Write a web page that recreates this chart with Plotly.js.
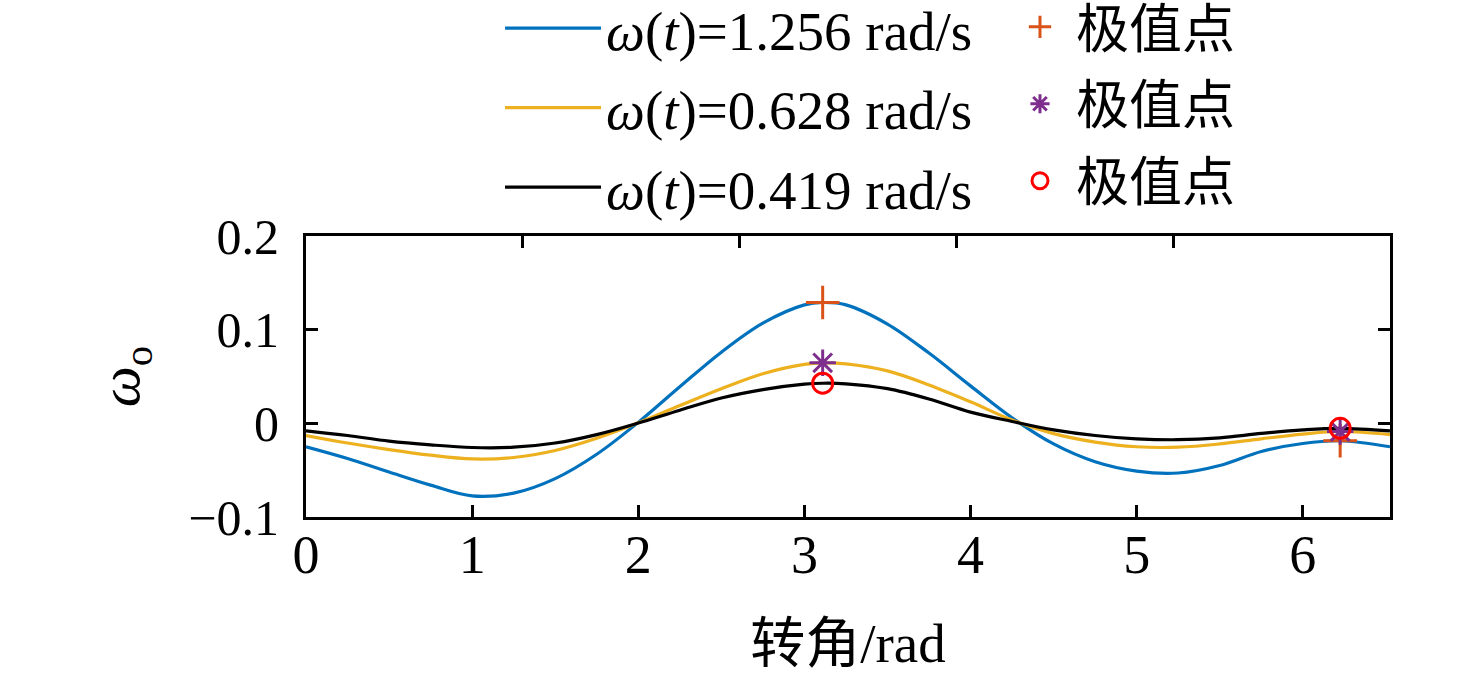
<!DOCTYPE html>
<html>
<head>
<meta charset="utf-8">
<script src="https://cdn.plot.ly/plotly-3.0.1.min.js"></script>
<style>html,body{margin:0;padding:0;background:#fff;}#chart{width:1476px;height:682px;}</style>
</head>
<body>
<div id="chart"></div>
<script>
// rotation angle (rad)
const angle = [0, 0.25, 0.5, 0.75, 1.0, 1.25, 1.5, 1.75, 2.0, 2.25, 2.5, 2.75, 3.0, 3.11, 3.25, 3.5, 3.75, 4.0, 4.25, 4.5, 4.75, 5.0, 5.25, 5.5, 5.75, 6.0, 6.225, 6.525];
const omega1256 = [-0.025, -0.0375, -0.052, -0.066, -0.0775, -0.0745, -0.059, -0.033, 0.001, 0.039, 0.076, 0.107, 0.1265, 0.129, 0.1265, 0.106, 0.075, 0.040, 0.006, -0.022, -0.041, -0.051, -0.053, -0.045, -0.030, -0.0215, -0.0186, -0.025];
const omega0628 = [-0.013, -0.021, -0.028, -0.034, -0.038, -0.0365, -0.029, -0.016, 0.0005, 0.019, 0.037, 0.053, 0.063, 0.0646, 0.0635, 0.056, 0.041, 0.023, 0.0035, -0.011, -0.020, -0.025, -0.0255, -0.022, -0.0165, -0.0115, -0.0087, -0.012];
const omega0419 = [-0.008, -0.013, -0.019, -0.023, -0.0258, -0.0255, -0.021, -0.012, 0.0003, 0.014, 0.027, 0.036, 0.0418, 0.0428, 0.0422, 0.037, 0.026, 0.012, 0.002, -0.007, -0.013, -0.0165, -0.0175, -0.0155, -0.0108, -0.007, -0.0053, -0.008];
// extreme points
const extX = [3.11, 6.225];
const ext1256 = [0.129, -0.0186];
const ext0628 = [0.0646, -0.0087];
const ext0419 = [0.0428, -0.0053];
const seriesNames = ['<i>ω</i>(<i>t</i>)=1.256 rad/s', '<i>ω</i>(<i>t</i>)=0.628 rad/s', '<i>ω</i>(<i>t</i>)=0.419 rad/s'];
const markerName = '极值点';
const xTicks = [0, 1, 2, 3, 4, 5, 6];
const yTicks = [-0.1, 0, 0.1, 0.2];
const yTickText = ['−0.1', '0', '0.1', '0.2'];

const FONT = 'Liberation Serif, "Times New Roman", "Noto Sans CJK SC", serif';
const lineW = 3.2;

const traces = [
  {x: angle, y: omega1256, mode: 'lines', name: seriesNames[0], line: {color: '#0072BD', width: lineW, shape: 'spline', smoothing: 1}, legend: 'legend', legendgroup: 'a'},
  {x: angle, y: omega0628, mode: 'lines', name: seriesNames[1], line: {color: '#EDB120', width: lineW, shape: 'spline', smoothing: 1}, legend: 'legend', legendgroup: 'b'},
  {x: angle, y: omega0419, mode: 'lines', name: seriesNames[2], line: {color: '#000000', width: lineW, shape: 'spline', smoothing: 1}, legend: 'legend', legendgroup: 'c'},
  {x: extX, y: ext1256, mode: 'markers', name: markerName, marker: {symbol: 'cross-thin-open', size: 24, color: '#D95319', line: {color: '#D95319', width: 3}}, legend: 'legend2', legendgroup: 'd'},
  {x: extX, y: ext0628, mode: 'markers', name: markerName, marker: {symbol: 'asterisk-open', size: 22, color: '#7E2F8E', line: {color: '#7E2F8E', width: 3}}, legend: 'legend2', legendgroup: 'e'},
  {x: extX, y: ext0419, mode: 'markers', name: markerName, marker: {symbol: 'circle-open', size: 20, color: '#FF0000', line: {color: '#FF0000', width: 3}}, legend: 'legend2', legendgroup: 'f'},
  {x: [], y: [], xaxis: 'x2', yaxis: 'y', mode: 'lines', showlegend: false, hoverinfo: 'skip'}
];

const layout = {
  width: 1476, height: 682,
  margin: {l: 306, r: 86, t: 236, b: 165, pad: 0, autoexpand: false},
  paper_bgcolor: '#fff', plot_bgcolor: 'rgba(0,0,0,0)',
  font: {family: FONT, color: '#000', size: 50},
  showlegend: true,
  xaxis: {
    range: [0, 6.525], tickmode: 'array', tickvals: xTicks, mirror: true,
    showgrid: false, zeroline: false, showline: true, linecolor: '#000', linewidth: 3,
    ticks: 'inside', ticklen: 12, tickwidth: 3, tickcolor: '#000',
    tickfont: {family: FONT, size: 54, color: '#000'},
    ticklabelstandoff: -12,
    title: {text: '转角/rad', font: {family: FONT, size: 55, color: '#000'}, standoff: 40}
  },
  xaxis2: {
    overlaying: 'x', side: 'top', range: [0, 5], tickmode: 'linear', dtick: 1, tick0: 0,
    showgrid: false, zeroline: false, showline: true, linecolor: '#000', linewidth: 3,
    ticks: 'inside', ticklen: 12, tickwidth: 3, tickcolor: '#000',
    showticklabels: false
  },
  yaxis: {
    range: [-0.1, 0.2], tickmode: 'array', tickvals: yTicks, ticktext: yTickText, mirror: 'ticks',
    showgrid: false, zeroline: false, showline: true, linecolor: '#000', linewidth: 3,
    ticks: 'inside', ticklen: 12, tickwidth: 3, tickcolor: '#000',
    tickfont: {family: FONT, size: 50, color: '#000'},
    ticklabelstandoff: 14,
    title: {text: '<i>ω</i><sub>o</sub>', font: {family: FONT, size: 58, color: '#000'}, standoff: 30}
  },
  legend: {
    x: 0.179, y: 1.89, xanchor: 'left', yanchor: 'top',
    bgcolor: 'rgba(0,0,0,0)', borderwidth: 0,
    font: {family: FONT, size: 55, color: '#000'},
    itemwidth: 96, tracegroupgap: 5
  },
  legend2: {
    x: 0.6439, y: 1.89, xanchor: 'left', yanchor: 'top',
    bgcolor: 'rgba(0,0,0,0)', borderwidth: 0,
    font: {family: FONT, size: 53, color: '#000'},
    itemwidth: 62, tracegroupgap: 5
  }
};

Plotly.newPlot('chart', traces, layout, {staticPlot: true, displayModeBar: false});
</script>
</body>
</html>
